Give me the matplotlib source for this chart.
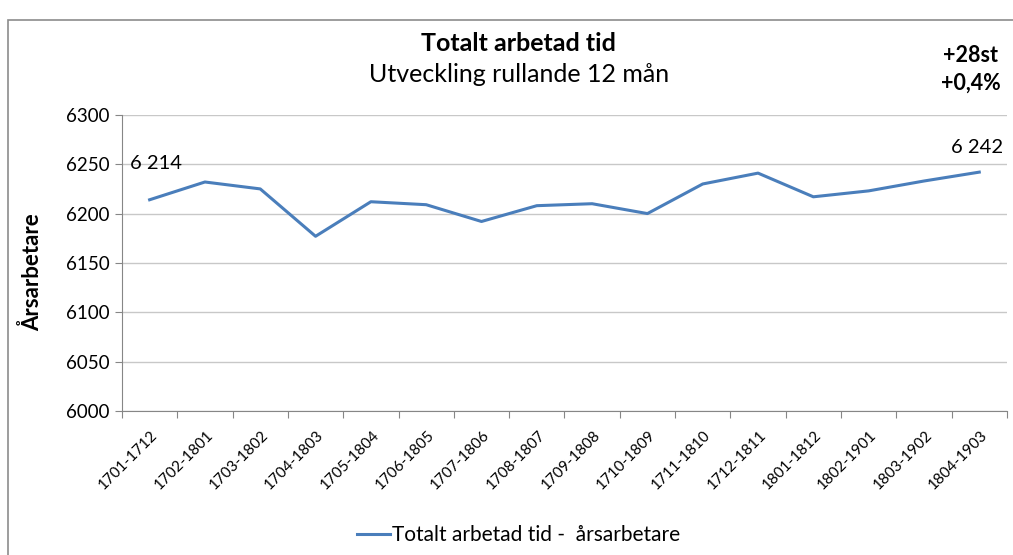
import matplotlib.pyplot as plt
from matplotlib.patches import Rectangle
from matplotlib.transforms import offset_copy

plt.rcParams["font.family"] = ["Lato", "DejaVu Sans"]

periods = ["1701-1712", "1702-1801", "1703-1802", "1704-1803", "1705-1804",
           "1706-1805", "1707-1806", "1708-1807", "1709-1808", "1710-1809",
           "1711-1810", "1712-1811", "1801-1812", "1802-1901", "1803-1902",
           "1804-1903"]
arsarbetare = [6214, 6232, 6225, 6177, 6212, 6209, 6192, 6208, 6210, 6200,
               6230, 6241, 6217, 6223, 6233, 6242]
y_ticks = [6000, 6050, 6100, 6150, 6200, 6250, 6300]

line_color = "#4a7ebb"

fig = plt.figure(figsize=(10.13, 5.55), dpi=100)
ax = fig.add_axes([0.1204, 0.2595, 0.8736, 0.5335])

x = list(range(len(periods)))
ax.plot(x, arsarbetare, color=line_color, linewidth=2.2,
        label="Totalt arbetad tid -  årsarbetare")

ax.set_xlim(-0.5, len(periods) - 0.5)
ax.set_ylim(6000, 6300)
ax.set_yticks(y_ticks)
ax.set_yticklabels([str(v) for v in y_ticks], fontsize=13.5)

# tick marks at category boundaries, labels drawn as text under each category
ax.set_xticks([i - 0.5 for i in range(len(periods) + 1)])
ax.set_xticklabels([])
ax.tick_params(axis="x", length=5, color="#868686")
ax.tick_params(axis="y", length=5, color="#868686", direction="out", pad=4)

lbl_trans = offset_copy(ax.get_xaxis_transform(), fig=fig, x=6, y=-22, units="dots")
for i, p in enumerate(periods):
    ax.text(i, 0, p, transform=lbl_trans, rotation=45, ha="right", va="center",
            rotation_mode="anchor", fontsize=11)

ax.grid(axis="y", color="#c8c8c8", linewidth=1)
ax.set_axisbelow(True)
for side in ["top", "right"]:
    ax.spines[side].set_visible(False)
for side in ["left", "bottom"]:
    ax.spines[side].set_color("#868686")

ax.set_ylabel("Årsarbetare", fontsize=16, fontweight="bold")
ax.yaxis.set_label_coords(-0.089, 0.47)

# first and last values
ax.annotate("6 214", (0, arsarbetare[0]), xytext=(4.3, 26),
            textcoords="offset points", ha="center", va="center", fontsize=14.5)
ax.annotate("6 242", (len(periods) - 1, arsarbetare[-1]), xytext=(-1.4, 18),
            textcoords="offset points", ha="center", va="center", fontsize=14.5)

fig.text(0.512, 0.922, "Totalt arbetad tid", ha="center", va="center",
         fontsize=18, fontweight="bold")
fig.text(0.512, 0.865, "Utveckling rullande 12 mån", ha="center", va="center",
         fontsize=18)
fig.text(0.9585, 0.9, "+28st", ha="center", va="center", fontsize=15.5,
         fontweight="bold")
fig.text(0.9585, 0.85, "+0,4%", ha="center", va="center", fontsize=15.5,
         fontweight="bold")

fig.legend(loc="center", bbox_to_anchor=(0.512, 0.036), frameon=False,
           fontsize=15, handlelength=1.6, handletextpad=0.1)

fig.patches.append(Rectangle((0.008, -0.01), 1.2, 0.974, transform=fig.transFigure,
                             fill=False, edgecolor="#8c8c8c", linewidth=1.2))

fig.savefig("out.png", dpi=100)
plt.close(fig)
